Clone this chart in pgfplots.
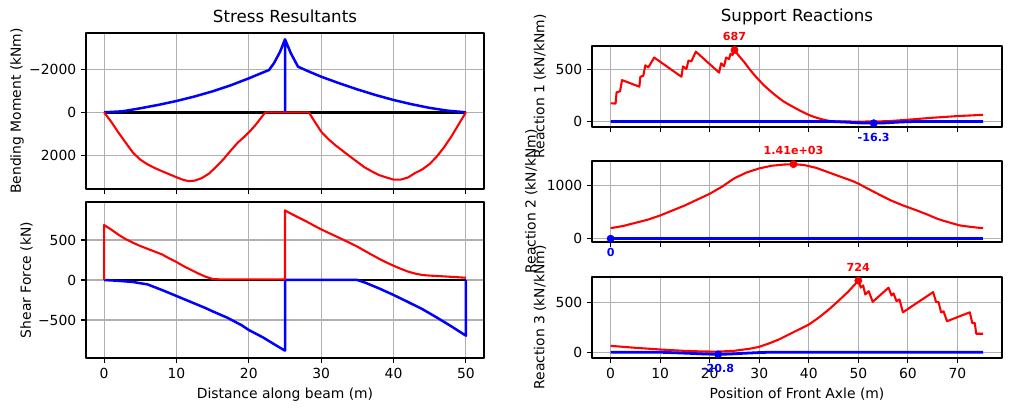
\documentclass[border=0pt]{standalone}
\usepackage{fontspec}
\setmainfont{DejaVu Sans}
\usepackage{pgfplots}
\pgfplotsset{compat=1.18}

\definecolor{gridgray}{HTML}{B0B0B0}

\pgfplotsset{
  every axis title shift=0pt,
  mpl/.style={
    scale only axis,
    axis line style={line width=0.8pt},
    every tick/.style={black, line width=0.8pt},
    major tick length=3.5pt,
    tick align=outside,
    xtick pos=lower, ytick pos=left,
    grid=major,
    grid style={gridgray, line width=0.8pt},
    tick label style={font=\fontsize{10}{12}\selectfont},
    label style={font=\fontsize{10}{12}\selectfont},
    title style={font=\fontsize{12}{14}\selectfont, anchor=base, inner sep=0pt},
    line join=round,
  },
  beam/.style={mpl, width=286.56pt, height=112.32pt, xmin=-2.5, xmax=52.5,
    xtick={0,10,...,50}, ylabel shift=-3pt},
  react/.style={mpl, width=295.2pt, height=58.32pt, xmin=-3.76, xmax=79.0,
    xtick={0,10,...,70}, clip=false},
  maxline/.style={red, line width=1.5pt},
  minline/.style={blue, line width=2pt},
  maxdot/.style={red, only marks, mark=*, mark size=2.6pt},
  mindot/.style={blue, only marks, mark=*, mark size=2.6pt},
}
\tikzset{
  maxlbl/.style={red, font=\bfseries\fontsize{8}{9}\selectfont, anchor=base, inner sep=0pt, yshift=6.7pt},
  minlbl/.style={blue, font=\bfseries\fontsize{8}{9}\selectfont, anchor=north, inner sep=0pt, yshift=-6.8pt},
}

\begin{document}
\begin{tikzpicture}
\useasboundingbox (0,0) rectangle (727.92pt,-295.92pt);

% ---------------- bending moment envelope ----------------
\begin{axis}[beam, at={(61.92pt,-136.08pt)}, anchor=south west,
  ymin=-3688, ymax=3567, y dir=reverse,
  xticklabels={},
  ytick={-2000,0,2000}, yticklabels={−2000,0,2000},
  ylabel={Bending Moment (kNm)},
  title={Stress Resultants}, title style={yshift=7.9pt}]
\addplot[black, line width=2pt] coordinates {(0,0) (50,0)};
\addplot[blue, line width=1.8pt] coordinates {
 (0,0) (2.5,-45) (5,-186) (7.5,-345) (10,-525) (12.5,-735) (15,-975)
 (17.5,-1255) (20,-1580) (21.5,-1790) (22.8,-1967) (23.5,-2300)
 (24.3,-2800) (25,-3395) (25,0) (25,-3395) (25.8,-2750) (26.8,-2121)
 (28,-1940) (30,-1656) (32.5,-1350) (35,-1065) (37.5,-805) (40,-572)
 (42.5,-375) (45,-205) (47.5,-75) (50,0)};
\addplot[red, line width=1.5pt] coordinates {
 (0,0) (1,450) (2,950) (3,1420) (4,1880) (5,2200) (6,2420) (7,2590)
 (8,2740) (9,2880) (10,3020) (11,3150) (11.7,3200) (12.5,3180)
 (13.5,3060) (14.5,2850) (15.5,2530) (16.5,2180) (17.5,1780) (18.5,1400)
 (19.5,1100) (20.1,902) (21,560) (21.7,250) (22.3,0) (28.3,0) (29,380)
 (30,900) (31,1250) (32,1540) (33,1800) (34,2060) (35,2310) (36,2560)
 (37,2750) (38,2920) (39,3030) (40,3130) (41,3130) (42,3030) (43,2820)
 (44,2650) (45,2400) (46,2050) (47,1620) (48,1120) (49,560) (50,0)};
\end{axis}

% ---------------- shear force envelope ----------------
\begin{axis}[beam, at={(61.92pt,-257.76pt)}, anchor=south west,
  ymin=-975, ymax=975,
  xticklabels={0,10,20,30,40,50},
  ytick={-500,0,500}, yticklabels={−500,0,500},
  xlabel={Distance along beam (m)},
  ylabel={Shear Force (kN)}]
\addplot[black, line width=2pt] coordinates {(0,0) (50,0)};
\addplot[blue, line width=1.8pt] coordinates {
 (0,0) (2,-10) (4,-25) (6,-55) (8,-125) (10,-200) (12,-275) (14,-350)
 (15.1,-396) (17,-470) (19,-565) (20,-625) (22,-720) (24,-830) (25,-883)
 (25,0) (35,0) (36,-30) (38,-105) (40,-187) (42,-275) (44,-365)
 (46,-470) (48,-580) (50,-696) (50,0)};
\addplot[red, line width=1.5pt] coordinates {
 (0,0) (0,687) (1,630) (2,565) (3,510) (4,465) (5,425) (6,390) (7,355)
 (8,320) (9,270) (10,225) (11,172) (12,128) (13,82) (14,42) (15,12)
 (16,8) (25,8) (25,870) (26,820) (27,775) (28,730) (29,680) (30,633)
 (31,590) (32,548) (33,505) (34,462) (35,417) (36,365) (37,315) (38,265)
 (39,220) (40,178) (41,140) (42,105) (43,80) (44,62) (45,55) (47,45)
 (50,28)};
\end{axis}

% ---------------- reaction 1 ----------------
\begin{axis}[react, at={(426.24pt,-91.44pt)}, anchor=south west,
  ymin=-53, ymax=726, xticklabels={},
  ytick={0,500}, yticklabels={0,500},
  ylabel={Reaction 1 (kN/kNm)},
  title={Support Reactions}, title style={yshift=17.3pt}]
\addplot[maxline] coordinates {
 (0,175) (1.0,172) (1.2,280) (1.9,290) (2.3,398) (5.8,335) (6.0,430)
 (6.6,440) (7.0,540) (7.6,520) (8.8,615) (14.3,430) (14.6,530) (15.3,505)
 (15.7,585) (16.3,578) (17.2,672) (21.9,470) (22.3,560) (22.9,530)
 (23.3,615) (23.9,600) (24.2,650) (24.6,640) (25,687) (26,625) (27,570)
 (28,505) (29,448) (30,395) (31,345) (32,303) (33,262) (34,224) (35,190)
 (36,162) (37,136) (38,110) (39,86) (40,63) (41,45) (42,30) (43,17)
 (44,7) (45,2) (47,0) (50,-1) (53,0) (56,3) (60,17) (65,36) (70,52)
 (75.2,64)};
\addplot[minline] coordinates {
 (0,0) (44,0) (45,-1) (47,-5) (49,-10) (51,-14.5) (53.1,-16.3) (55,-14.5)
 (57,-9) (59,-4) (61,-1) (62,0) (75.2,0)};
\addplot[maxdot] coordinates {(25,687)};
\addplot[mindot] coordinates {(53.1,-16.3)};
\node[maxlbl] at (axis cs:25,687) {687};
\node[minlbl] at (axis cs:53.1,-16.3) {-16.3};
\end{axis}

% ---------------- reaction 2 ----------------
\begin{axis}[react, at={(426.24pt,-174.24pt)}, anchor=south west,
  ymin=-62, ymax=1470, xticklabels={},
  ytick={0,1000}, yticklabels={0,1000},
  ylabel={Reaction 2 (kN/kNm)}]
\addplot[maxline] coordinates {
 (0,200) (2.5,240) (5,300) (7.5,360) (10,440) (12.5,535) (15,630)
 (17.5,740) (20,850) (22.5,985) (25,1145) (27.5,1255) (30,1330)
 (32.5,1380) (35,1403) (36.9,1410) (39,1395) (41.5,1340) (44,1255)
 (46.5,1170) (49,1085) (50.2,1032) (51.5,967) (54,845) (56.5,727)
 (59,630) (61.5,545) (64,455) (65.7,386) (67,345) (69,290) (70.4,253)
 (72,232) (74,210) (75.2,200)};
\addplot[minline] coordinates {(0,0) (75.2,0)};
\addplot[maxdot] coordinates {(36.9,1410)};
\addplot[mindot] coordinates {(0,0)};
\node[maxlbl] at (axis cs:36.9,1410) {1.41e+03};
\node[minlbl] at (axis cs:0,0) {0};
\end{axis}

% ---------------- reaction 3 ----------------
\begin{axis}[react, at={(426.24pt,-257.76pt)}, anchor=south west,
  ymin=-58, ymax=761,
  xticklabels={0,10,20,30,40,50,60,70},
  ytick={0,500}, yticklabels={0,500},
  xlabel={Position of Front Axle (m)},
  ylabel={Reaction 3 (kN/kNm)}]
\addplot[maxline] coordinates {
 (0,65) (5,45) (10,28) (15,14) (18,9) (21.5,6) (25,15) (28,35) (30,55)
 (32,90) (34,130) (36,180) (38,230) (40,280) (42,350) (44,430) (46,520)
 (48,615) (50,724) (50.5,654) (50.97,676) (51.4,584) (52.1,618)
 (52.9,510) (56.1,653) (56.7,574) (57.1,595) (57.7,517) (58.3,534)
 (59.0,404) (65.1,608) (65.7,507) (66.2,507) (66.7,404) (67.2,414)
 (67.9,314) (72.5,404) (73.0,296) (73.5,296) (73.8,187) (75.2,187)};
\addplot[minline] coordinates {
 (0,0) (10,0) (13,-5) (16,-11) (19,-17.5) (21.7,-20.8) (24,-18) (27,-10)
 (30,-3) (32,0) (75.2,0)};
\addplot[maxdot] coordinates {(50,724)};
\addplot[mindot] coordinates {(21.7,-20.8)};
\node[maxlbl] at (axis cs:50,724) {724};
\node[minlbl] at (axis cs:21.7,-20.8) {-20.8};
\end{axis}
\end{tikzpicture}
\end{document}
